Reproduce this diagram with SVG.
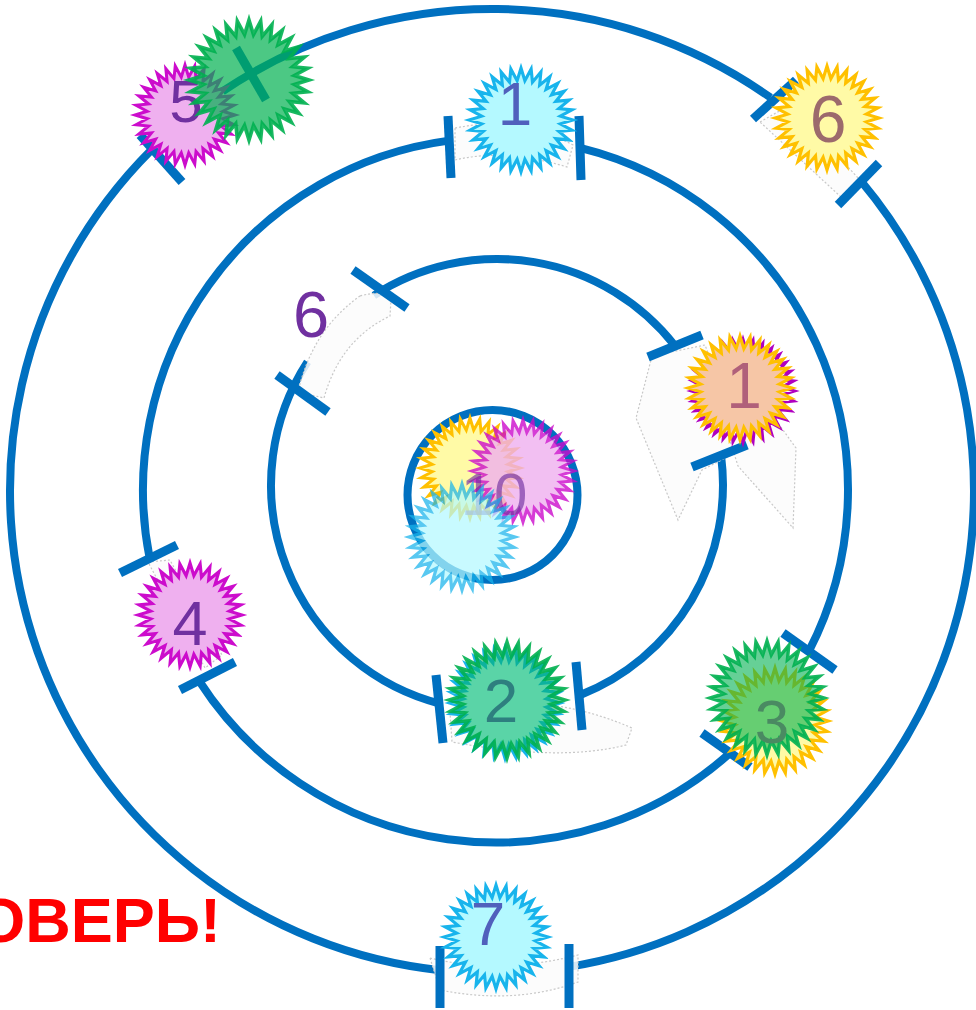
<svg xmlns="http://www.w3.org/2000/svg" width="976" height="1010" viewBox="0 0 976 1010">
<style>
.ring{fill:none;stroke:#0070c0;stroke-width:8}
.tick{stroke:#0070c0;stroke-width:9;stroke-linecap:butt}
.ghost{fill:#fbfbfb;fill-opacity:0.85;stroke:#c8c8c8;stroke-width:1.2;stroke-dasharray:2 2}
.st{stroke-width:3;stroke-linejoin:miter}
.cy{fill:#b4f9ff;stroke:#18b4ec}
.ye{fill:#fffaa6;stroke:#ffc000}
.pk{fill:#efb0ef;stroke:#cc0ccc}
.gr{fill:#00b050;fill-opacity:0.7;stroke:#00b050;stroke-opacity:0.9}
.pe{fill:#f6c6a6;stroke:#ffc000}
.mg{fill:none;stroke:#b000c0}
.num{font-family:"Liberation Sans",Arial,sans-serif;text-anchor:middle}
</style>
<defs>
<polygon id="s32" points="0,-50 3.72,-37.82 9.75,-49.04 11.03,-36.36 19.13,-46.19 17.91,-33.51 27.78,-41.57 24.11,-29.37 35.36,-35.36 29.37,-24.11 41.57,-27.78 33.51,-17.91 46.19,-19.13 36.36,-11.03 49.04,-9.75 37.82,-3.72 50,0 37.82,3.72 49.04,9.75 36.36,11.03 46.19,19.13 33.51,17.91 41.57,27.78 29.37,24.11 35.36,35.36 24.11,29.37 27.78,41.57 17.91,33.51 19.13,46.19 11.03,36.36 9.75,49.04 3.72,37.82 0,50 -3.72,37.82 -9.75,49.04 -11.03,36.36 -19.13,46.19 -17.91,33.51 -27.78,41.57 -24.11,29.37 -35.36,35.36 -29.37,24.11 -41.57,27.78 -33.51,17.91 -46.19,19.13 -36.36,11.03 -49.04,9.75 -37.82,3.72 -50,0 -37.82,-3.72 -49.04,-9.75 -36.36,-11.03 -46.19,-19.13 -33.51,-17.91 -41.57,-27.78 -29.37,-24.11 -35.36,-35.36 -24.11,-29.37 -27.78,-41.57 -17.91,-33.51 -19.13,-46.19 -11.03,-36.36 -9.75,-49.04 -3.72,-37.82"/>
</defs>
<rect width="976" height="1010" fill="#ffffff"/>
<g id="connectors">
  <g id="rings">
    <path class="ring" d="M861.2,181.2 A482,482 0 0 1 567.4,967.1"/>
    <path class="ring" d="M441.6,970.4 A482,482 0 0 1 151.2,150.2"/>
    <path class="ring" d="M222.5,91.4 A482,482 0 0 1 770.5,97.6"/>
    <path class="ring" d="M580.2,147.8 A352.5,352.5 0 0 1 808.7,651.7"/>
    <path class="ring" d="M729.5,753.6 A352.5,352.5 0 0 1 199.2,681.0"/>
    <path class="ring" d="M149.7,558.5 A352.5,352.5 0 0 1 448.9,140.6"/>
    <path class="ring" d="M721.1,455.9 A226,226 0 0 1 579.8,695.3"/>
    <path class="ring" d="M441.2,704.0 A226,226 0 0 1 307.5,361.9"/>
    <path class="ring" d="M373.9,295.5 A226,226 0 0 1 675.1,345.9"/>
    <circle class="ring" cx="492.5" cy="495" r="85"/>
  </g>
  <g id="ghosts">
    <path class="ghost" d="M455,128 Q520,115 573,145 L567,167 Q505,148 455,160 Z"/>
    <path class="ghost" d="M760,122 L790,105 L860,180 L842,198 Z"/>
    <path class="ghost" d="M360,296 Q385,289 391,300 L390,316 Q340,340 324,398 L298,392 Q312,330 360,296 Z"/>
    <path class="ghost" d="M652,356 L705,345 L745,448 L702,470 L678,520 L636,418 Z"/>
    <path class="ghost" d="M725,425 L760,398 L796,448 L793,528 L738,466 Z"/>
    <path class="ghost" d="M148,562 L170,560 L222,655 L205,668 Z"/>
    <path class="ghost" d="M450,712 Q540,688 632,728 L626,745 Q560,762 452,742 Z"/>
    <path class="ghost" d="M430,958 Q500,975 578,955 L578,982 Q515,1005 440,990 Z"/>
  </g>
  <g id="ticks">
    <line class="tick" x1="140" y1="135" x2="182" y2="182"/>
    <line class="tick" x1="236" y1="48" x2="266" y2="100"/>
    <line class="tick" x1="753" y1="119" x2="796" y2="80"/>
    <line class="tick" x1="838" y1="205" x2="879" y2="163"/>
    <line class="tick" x1="440" y1="946" x2="440" y2="1008"/>
    <line class="tick" x1="569" y1="944" x2="569" y2="1008"/>
    <line class="tick" x1="448" y1="116" x2="451" y2="178"/>
    <line class="tick" x1="579" y1="116" x2="581" y2="180"/>
    <line class="tick" x1="120" y1="573" x2="177" y2="545"/>
    <line class="tick" x1="180" y1="690" x2="235" y2="662"/>
    <line class="tick" x1="783" y1="633" x2="835" y2="670"/>
    <line class="tick" x1="702" y1="733" x2="750" y2="767"/>
    <line class="tick" x1="353" y1="270" x2="407" y2="308"/>
    <line class="tick" x1="277" y1="375" x2="328" y2="412"/>
    <line class="tick" x1="648" y1="357" x2="702" y2="335"/>
    <line class="tick" x1="692" y1="467" x2="747" y2="445"/>
    <line class="tick" x1="436" y1="675" x2="443" y2="743"/>
    <line class="tick" x1="576" y1="662" x2="582" y2="730"/>
  </g>
</g>
<g id="star-1-top">
  <use href="#s32" class="st cy" transform="translate(521,120) scale(1.04)"/>
  <text class="num" x="515" y="125" font-size="62" fill="#5060bc">1</text>
</g>
<g id="star-6-outer">
  <use href="#s32" class="st ye" transform="translate(827,118) scale(1.04)"/>
  <text class="num" x="828" y="142" font-size="66" fill="#9c6a6c">6</text>
</g>
<g id="star-5">
  <use href="#s32" class="st pk" transform="translate(185,115) scale(1.0)"/>
  <text class="num" x="186" y="122" font-size="60" fill="#7030a0">5</text>
</g>
<g id="star-green-top">
  <use href="#s32" class="st gr" transform="translate(249,80) scale(1.2)"/>
</g>
<g id="star-1-orange">
  <use href="#s32" class="st mg" transform="translate(743,391) scale(1.03)"/>
  <use href="#s32" class="st pe" transform="translate(740,388) scale(1.04)"/>
  <text class="num" x="744" y="408" font-size="64" fill="#b0607a">1</text>
</g>
<g id="label-6-inner">
  <text class="num" x="311" y="337" font-size="65" fill="#7030a0">6</text>
</g>
<g id="center-10">
  <use href="#s32" class="st ye" transform="translate(470,468) scale(1.0)"/>
  <use href="#s32" class="st pk" transform="translate(523,471) scale(1.02)" opacity="0.8"/>
  <text class="num" x="494" y="515" font-size="60" fill="#7030a0" fill-opacity="0.65">10</text>
  <use href="#s32" class="st cy" transform="translate(462,537) scale(1.06)" opacity="0.72"/>
</g>
<g id="star-4">
  <use href="#s32" class="st pk" transform="translate(190,615) scale(1.04)"/>
  <text class="num" x="190" y="645" font-size="63" fill="#7030a0">4</text>
</g>
<g id="star-2">
  <use href="#s32" class="st cy" transform="translate(505,703) scale(1.1)"/>
  <use href="#s32" class="st gr" transform="translate(507,700) scale(1.16)" style="fill-opacity:0.5"/>
  <text class="num" x="501" y="722" font-size="62" fill="#2e7f7f">2</text>
</g>
<g id="star-3">
  <use href="#s32" class="st ye" transform="translate(775,721) scale(1.06)"/>
  <use href="#s32" class="st gr" transform="translate(767,698) scale(1.14)" style="fill-opacity:0.6"/>
  <text class="num" x="772" y="743" font-size="62" fill="#4a8a62">3</text>
</g>
<g id="star-7">
  <use href="#s32" class="st cy" transform="translate(496,937) scale(1.04)"/>
  <text class="num" x="488" y="945" font-size="62" fill="#5060bc">7</text>
</g>
<g id="caption">
  <text x="221" y="942" font-family="'Liberation Sans',Arial,sans-serif" font-weight="bold" font-size="63" fill="#ff0000" text-anchor="end">ОВЕРЬ!</text>
</g>
</svg>
